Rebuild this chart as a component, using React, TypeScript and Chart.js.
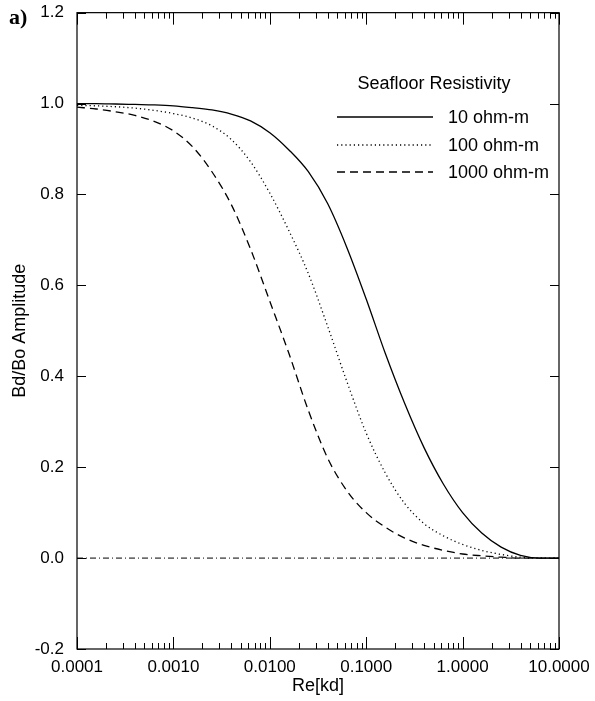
import React, { useEffect, useRef } from "react";
import { Chart, registerables } from "chart.js";

Chart.register(...registerables);

// Re[kd] sample positions (log-spaced, 5 per decade)
const kd = [
  0.0001, 0.000158, 0.000251, 0.000398, 0.000631,
  0.001, 0.00158, 0.00251, 0.00398, 0.00631,
  0.01, 0.0158, 0.0251, 0.0398, 0.0631,
  0.1, 0.158, 0.251, 0.398, 0.631,
  1, 1.58, 2.51, 3.98, 6.31,
  10,
];
// Bd/Bo amplitude for each seafloor resistivity
const amp10 = [
  1.0, 1.0, 0.999, 0.998, 0.997,
  0.995, 0.991, 0.986, 0.977, 0.962,
  0.936, 0.898, 0.85, 0.78, 0.683,
  0.57, 0.45, 0.34, 0.243, 0.163,
  0.1, 0.055, 0.024, 0.006, 0.0,
  0.0,
];
const amp100 = [
  0.996, 0.995, 0.993, 0.99, 0.985,
  0.978, 0.968, 0.951, 0.921, 0.872,
  0.803, 0.72, 0.626, 0.51, 0.388,
  0.275, 0.187, 0.12, 0.076, 0.049,
  0.03, 0.017, 0.008, 0.002, 0.0,
  0.0,
];
const amp1000 = [
  0.992, 0.988, 0.982, 0.974, 0.961,
  0.94, 0.905, 0.85, 0.778, 0.68,
  0.565, 0.45, 0.325, 0.22, 0.148,
  0.1, 0.068, 0.044, 0.028, 0.017,
  0.009, 0.005, 0.002, 0.0, 0.0,
  0.0,
];
const zeroLineX = [0.0001, 10];
const zeroLineY = [0, 0];

const seriesLabels = ["10 ohm-m", "100 ohm-m", "1000 ohm-m"];
const legendTitle = "Seafloor Resistivity";
const kdTicks = [0.0001, 0.001, 0.01, 0.1, 1, 10];
const ampTicks = [-0.2, 0.0, 0.2, 0.4, 0.6, 0.8, 1.0, 1.2];
const xTitle = "Re[kd]";
const yTitle = "Bd/Bo Amplitude";
const panelLabel = "a)";

const SANS = "'Liberation Sans', Arial, Helvetica, sans-serif";
const SERIF = "'Liberation Serif', 'Times New Roman', serif";
const dashes: number[][] = [[], [1.2, 3], [8, 5]];

const framePlugin = {
  id: "frame",
  afterDraw(chart: any) {
    const { ctx, chartArea: a, scales } = chart;
    const xs = scales.x;
    const ys = scales.y;
    ctx.save();
    ctx.strokeStyle = "#000";
    ctx.lineWidth = 1.2;
    ctx.setLineDash([]);
    ctx.strokeRect(a.left, a.top, a.right - a.left, a.bottom - a.top);
    ctx.lineWidth = 1;
    ctx.beginPath();
    // x ticks (major + minor), inward, top and bottom
    for (let d = 0; d < kdTicks.length; d++) {
      const dec = kdTicks[d];
      for (let m = 1; m <= 9; m++) {
        if (d === kdTicks.length - 1 && m > 1) break;
        const v = dec * m;
        const px = Math.round(xs.getPixelForValue(v)) + 0.5;
        const len = m === 1 ? 12 : 6;
        ctx.moveTo(px, a.bottom);
        ctx.lineTo(px, a.bottom - len);
        ctx.moveTo(px, a.top);
        ctx.lineTo(px, a.top + len);
      }
    }
    // y ticks, inward, left and right
    for (const v of ampTicks) {
      const py = Math.round(ys.getPixelForValue(v)) + 0.5;
      ctx.moveTo(a.left, py);
      ctx.lineTo(a.left + 9, py);
      ctx.moveTo(a.right, py);
      ctx.lineTo(a.right - 9, py);
    }
    ctx.stroke();

    // legend
    ctx.fillStyle = "#000";
    ctx.font = `18px ${SANS}`;
    ctx.textBaseline = "middle";
    ctx.textAlign = "center";
    ctx.fillText(legendTitle, 434, 84);
    const rows = [117, 145, 172];
    ctx.textAlign = "left";
    for (let i = 0; i < seriesLabels.length; i++) {
      ctx.beginPath();
      ctx.setLineDash(dashes[i]);
      ctx.lineWidth = 1.3;
      ctx.moveTo(337, rows[i]);
      ctx.lineTo(433, rows[i]);
      ctx.stroke();
      ctx.setLineDash([]);
      ctx.fillText(seriesLabels[i], 448, rows[i] + 1);
    }

    // panel label
    ctx.font = `bold 22px ${SERIF}`;
    ctx.textBaseline = "alphabetic";
    ctx.fillText(panelLabel, 9, 24);
    ctx.restore();
  },
};

export default function App() {
  const ref = useRef<HTMLCanvasElement | null>(null);
  useEffect(() => {
    if (!ref.current) return;
    const mk = (ys: number[]) => kd.map((x, i) => ({ x, y: ys[i] }));
    const common = {
      borderColor: "#000",
      borderWidth: 1.3,
      pointRadius: 0,
      cubicInterpolationMode: "monotone" as const,
      fill: false,
    };
    const chart = new Chart(ref.current, {
      type: "line",
      data: {
        datasets: [
          { ...common, label: seriesLabels[0], data: mk(amp10), borderDash: dashes[0] },
          { ...common, label: seriesLabels[1], data: mk(amp100), borderDash: dashes[1] },
          { ...common, label: seriesLabels[2], data: mk(amp1000), borderDash: dashes[2] },
          {
            ...common,
            label: "zero",
            borderWidth: 1,
            data: zeroLineX.map((x, i) => ({ x, y: zeroLineY[i] })),
            borderDash: [6, 3, 1, 3],
          },
        ],
      },
      options: {
        animation: false,
        responsive: true,
        maintainAspectRatio: false,
        layout: { padding: { top: 8, right: 36, left: 0, bottom: 0 } },
        plugins: { legend: { display: false }, tooltip: { enabled: false } },
        scales: {
          x: {
            type: "logarithmic",
            min: 0.0001,
            max: 10,
            grid: { display: false },
            border: { display: false },
            afterBuildTicks: (s: any) => {
              s.ticks = kdTicks.map((v) => ({ value: v }));
            },
            afterFit: (s: any) => {
              s.height = 52;
            },
            ticks: {
              autoSkip: false,
              maxRotation: 0,
              color: "#000",
              padding: 2,
              font: { family: SANS, size: 17, lineHeight: 1 },
              callback: (v: any) => Number(v).toFixed(4),
            },
            title: {
              display: true,
              text: xTitle,
              color: "#000",
              font: { family: SANS, size: 18 },
              padding: { top: 0, bottom: 4 },
            },
          },
          y: {
            type: "linear",
            min: -0.2,
            max: 1.2,
            grid: { display: false },
            border: { display: false },
            afterBuildTicks: (s: any) => {
              s.ticks = ampTicks.map((v) => ({ value: v }));
            },
            afterFit: (s: any) => {
              s.width = 77;
            },
            ticks: {
              color: "#000",
              padding: 5,
              font: { family: SANS, size: 17, lineHeight: 0.9 },
              callback: (v: any) => Number(v).toFixed(1),
            },
            title: {
              display: true,
              text: yTitle,
              color: "#000",
              font: { family: SANS, size: 18 },
              padding: { top: 9, bottom: 0 },
            },
          },
        },
      },
      plugins: [framePlugin],
    });
    return () => chart.destroy();
  }, []);
  return (
    <div style={{ position: "absolute", left: 0, top: 0, width: 595, height: 701, background: "#fff" }}>
      <canvas ref={ref} />
    </div>
  );
}
